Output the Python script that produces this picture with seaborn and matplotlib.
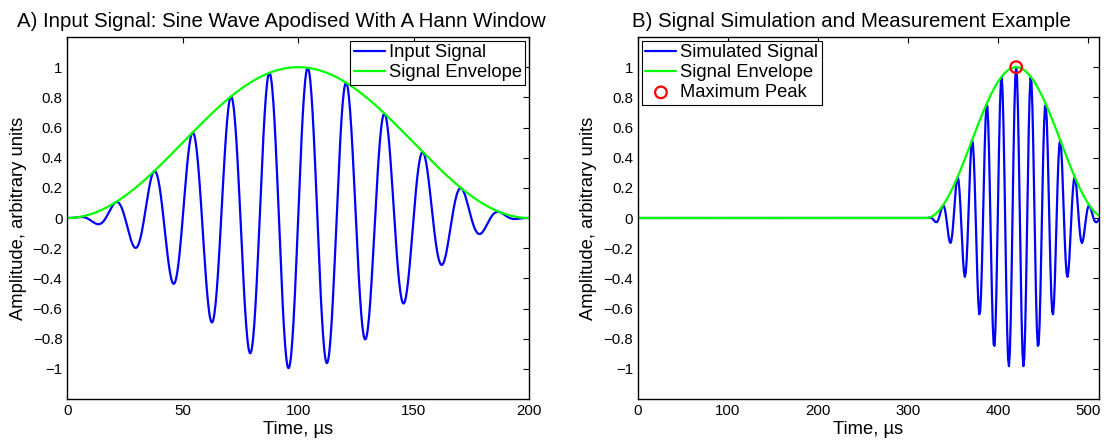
import numpy as np
import pandas as pd
import matplotlib
matplotlib.use("Agg")
import matplotlib.pyplot as plt
import seaborn as sns
from matplotlib.ticker import FixedLocator, FuncFormatter

# Panel A: sine burst apodised by a Hann window
burst_duration_us = 200.0
burst_carrier_mhz = 0.06
burst_step_us = 0.25

# Panel B: simulated record holding the delayed burst
record_length_us = 512.0
record_step_us = 1.0
pulse_start_us = 320.0
pulse_length_us = 200.0
pulse_carrier_mhz = 0.0612

amp_ticks = [-1, -0.8, -0.6, -0.4, -0.2, 0, 0.2, 0.4, 0.6, 0.8, 1]
amp_limits = (-1.2, 1.2)
time_ticks_a = [0, 50, 100, 150, 200]
time_ticks_b = [0, 100, 200, 300, 400, 500]

title_a = "A) Input Signal: Sine Wave Apodised With A Hann Window"
title_b = "B) Signal Simulation and Measurement Example"


def hann(tau, length):
    inside = (tau >= 0) & (tau <= length)
    return np.where(inside, 0.5 * (1.0 - np.cos(2 * np.pi * tau / length)), 0.0)


t_a = np.arange(0.0, burst_duration_us + burst_step_us / 2, burst_step_us)
env_a = hann(t_a, burst_duration_us)
sig_a = env_a * np.sin(2 * np.pi * burst_carrier_mhz * t_a)
df_a = pd.DataFrame({"time": t_a, "signal": sig_a, "envelope": env_a})

t_b = np.arange(0.0, record_length_us + record_step_us / 2, record_step_us)
env_b = hann(t_b - pulse_start_us, pulse_length_us)
pulse_centre = pulse_start_us + pulse_length_us / 2
sig_b = env_b * np.cos(2 * np.pi * pulse_carrier_mhz * (t_b - pulse_centre))
df_b = pd.DataFrame({"time": t_b, "signal": sig_b, "envelope": env_b})
peak_idx = int(np.argmax(sig_b))
df_peak = pd.DataFrame({"time": [t_b[peak_idx]], "signal": [sig_b[peak_idx]]})

sns.set_style("white")
plt.rcParams["font.family"] = ["Liberation Sans", "DejaVu Sans"]
plt.rcParams["axes.unicode_minus"] = True
for key in ("text.color", "axes.labelcolor", "xtick.color", "ytick.color"):
    plt.rcParams[key] = "black"

W, H = 1106, 447
fig = plt.figure(figsize=(W / 100, H / 100), dpi=100)

ax_top, ax_bot = 37, 399
ax_a = fig.add_axes([67.3 / W, 1 - ax_bot / H, (529 - 67.3) / W, (ax_bot - ax_top) / H])
ax_b = fig.add_axes([638 / W, 1 - ax_bot / H, (1099 - 638) / W, (ax_bot - ax_top) / H])

BLUE = "#0000ff"
GREEN = "#00ff00"
LW = 1.6


def fmt(v, _):
    s = f"{v:g}"
    return s.replace("-", "\u2212")


def style_axes(ax, xticks, xlim, title):
    ax.set_xlim(*xlim)
    ax.set_ylim(*amp_limits)
    ax.xaxis.set_major_locator(FixedLocator(xticks))
    ax.yaxis.set_major_locator(FixedLocator(amp_ticks))
    ax.xaxis.set_major_formatter(FuncFormatter(fmt))
    ax.yaxis.set_major_formatter(FuncFormatter(fmt))
    ax.tick_params(direction="in", length=4.5, width=0.8, colors="black",
                   labelsize=10.8, top=True, right=True, pad=3.5)
    for sp in ax.spines.values():
        sp.set_color("black")
        sp.set_linewidth(1.0)
        sp.set_visible(True)
    ax.set_xlabel("Time, \u00b5s", fontsize=13.2)
    ax.set_ylabel("Amplitude, arbitrary units", fontsize=13.2)
    ax.yaxis.set_label_coords(-0.088, 0.5)
    ax.xaxis.set_label_coords(0.5, -0.062)
    ax.xaxis.label.set_va("top")
    ax.text(0.5 - 17 / 461, 1 + 10 / 362, title, transform=ax.transAxes,
            ha="center", va="baseline", fontsize=14.7)
    ax.set_facecolor("white")


# Panel A
sns.lineplot(data=df_a, x="time", y="signal", ax=ax_a, color=BLUE, lw=LW,
             estimator=None, sort=False, label="Input Signal")
sns.lineplot(data=df_a, x="time", y="envelope", ax=ax_a, color=GREEN, lw=LW,
             estimator=None, sort=False, label="Signal Envelope")
style_axes(ax_a, time_ticks_a, (0, burst_duration_us), title_a)

# Panel B
sns.lineplot(data=df_b, x="time", y="signal", ax=ax_b, color=BLUE, lw=LW,
             estimator=None, sort=False, label="Simulated Signal")
sns.lineplot(data=df_b, x="time", y="envelope", ax=ax_b, color=GREEN, lw=LW,
             estimator=None, sort=False, label="Signal Envelope")
sns.scatterplot(data=df_peak, x="time", y="signal", ax=ax_b, marker="o",
                s=70, facecolor="none", edgecolor="red", linewidth=1.6,
                label="Maximum Peak", zorder=5)
style_axes(ax_b, time_ticks_b, (0, record_length_us), title_b)

legend_kw = dict(fontsize=13.2, frameon=True, fancybox=False, framealpha=1,
                 edgecolor="black", borderpad=0.2, labelspacing=0.16,
                 handlelength=1.7, handletextpad=0.2, borderaxespad=0.2)
leg_a = ax_a.legend(loc="upper right", **legend_kw)
leg_b = ax_b.legend(loc="upper left", **legend_kw)
for leg in (leg_a, leg_b):
    leg.get_frame().set_linewidth(0.8)

fig.savefig("out.png", dpi=100)
